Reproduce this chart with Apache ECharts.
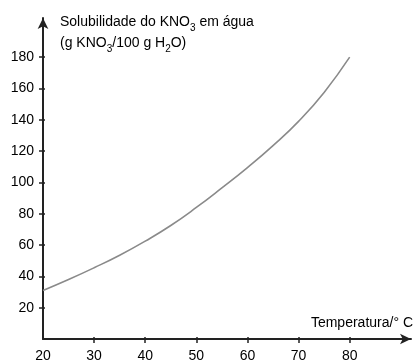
<!DOCTYPE html>
<html>
<head>
<meta charset="utf-8">
<script src="https://cdn.jsdelivr.net/npm/echarts@6/dist/echarts.min.js"></script>
<style>
  html, body { margin: 0; padding: 0; background: #fff; }
  #chart { width: 416px; height: 363px; }
</style>
</head>
<body>
<div id="chart"></div>
<script>
// temperatura (°C) e solubilidade
var temps = [20, 25, 30, 35, 40, 45, 50, 55, 60, 65, 70, 75, 80];
var solub = [31, 38, 45.5, 53.5, 62.5, 72.5, 84, 96.5, 109.5, 123.5, 139, 157.5, 180];
var xTicks = [30, 40, 50, 60, 70, 80];
var xLabels = [20, 30, 40, 50, 60, 70, 80];
var yTicks = [20, 40, 60, 80, 100, 120, 140, 160, 180];

var font = "'Liberation Sans', Arial, sans-serif";
var gridH = 363 - 18 - 22;
var gridW = 416 - 43 - 3;

var chart = echarts.init(document.getElementById('chart'));

function curveData() {
  return temps.map(function (t, i) { return [t, solub[i]]; });
}

var option = {
  animation: false,
  backgroundColor: '#fff',
  title: {
    left: 60,
    top: 12,
    padding: 0,
    text: 'Solubilidade do KNO{s|3} em água\n(g KNO{s|3}/100 g H{s|2}O)',
    textStyle: {
      fontFamily: font,
      fontSize: 14,
      fontWeight: 'normal',
      color: '#000',
      lineHeight: 21,
      rich: {
        s: { fontFamily: font, fontSize: 10, color: '#000', verticalAlign: 'bottom', lineHeight: 11 }
      }
    }
  },
  grid: { left: 43, right: 3, top: 18, bottom: 22 },
  xAxis: [
    {
      type: 'value',
      min: 20,
      max: 92,
      interval: 10,
      name: 'Temperatura/° C',
      nameLocation: 'end',
      nameGap: 2,
      nameTextStyle: {
        fontFamily: font, fontSize: 14, color: '#000',
        align: 'right', verticalAlign: 'bottom', padding: [0, 0, 9, 0]
      },
      axisLine: { lineStyle: { color: '#222', width: 2 }, symbol: ['none', 'arrow'], symbolSize: [8, 11] },
      axisTick: { show: true, length: 4, customValues: xTicks, lineStyle: { color: '#222', width: 1.5 } },
      axisLabel: { customValues: xLabels, margin: 10, fontFamily: font, fontSize: 14, color: '#000' },
      splitLine: { show: false }
    },
    {
      type: 'value',
      position: 'top',
      offset: -gridH,
      min: 20,
      max: 92,
      axisLine: { show: false },
      axisTick: { show: true, length: 4, customValues: xTicks, lineStyle: { color: '#222', width: 1.5 } },
      axisLabel: { show: false },
      splitLine: { show: false }
    }
  ],
  yAxis: [
    {
      type: 'value',
      min: 0,
      max: 205,
      interval: 20,
      axisLine: { show: true, lineStyle: { color: '#222', width: 2 }, symbol: ['none', 'arrow'], symbolSize: [8, 11] },
      axisTick: { show: true, length: 4, customValues: yTicks, lineStyle: { color: '#222', width: 1.5 } },
      axisLabel: { customValues: yTicks, margin: 9, fontFamily: font, fontSize: 14, color: '#000' },
      splitLine: { show: false }
    },
    {
      type: 'value',
      position: 'right',
      offset: -gridW,
      min: 0,
      max: 205,
      axisLine: { show: false },
      axisTick: { show: true, length: 4, customValues: yTicks, lineStyle: { color: '#222', width: 1.5 } },
      axisLabel: { show: false },
      splitLine: { show: false }
    }
  ],
  series: [
    {
      type: 'line',
      xAxisIndex: 0,
      yAxisIndex: 0,
      smooth: true,
      symbol: 'none',
      lineStyle: { color: '#8a8a8a', width: 1.6 },
      data: curveData()
    }
  ]
};

chart.setOption(option);
</script>
</body>
</html>
